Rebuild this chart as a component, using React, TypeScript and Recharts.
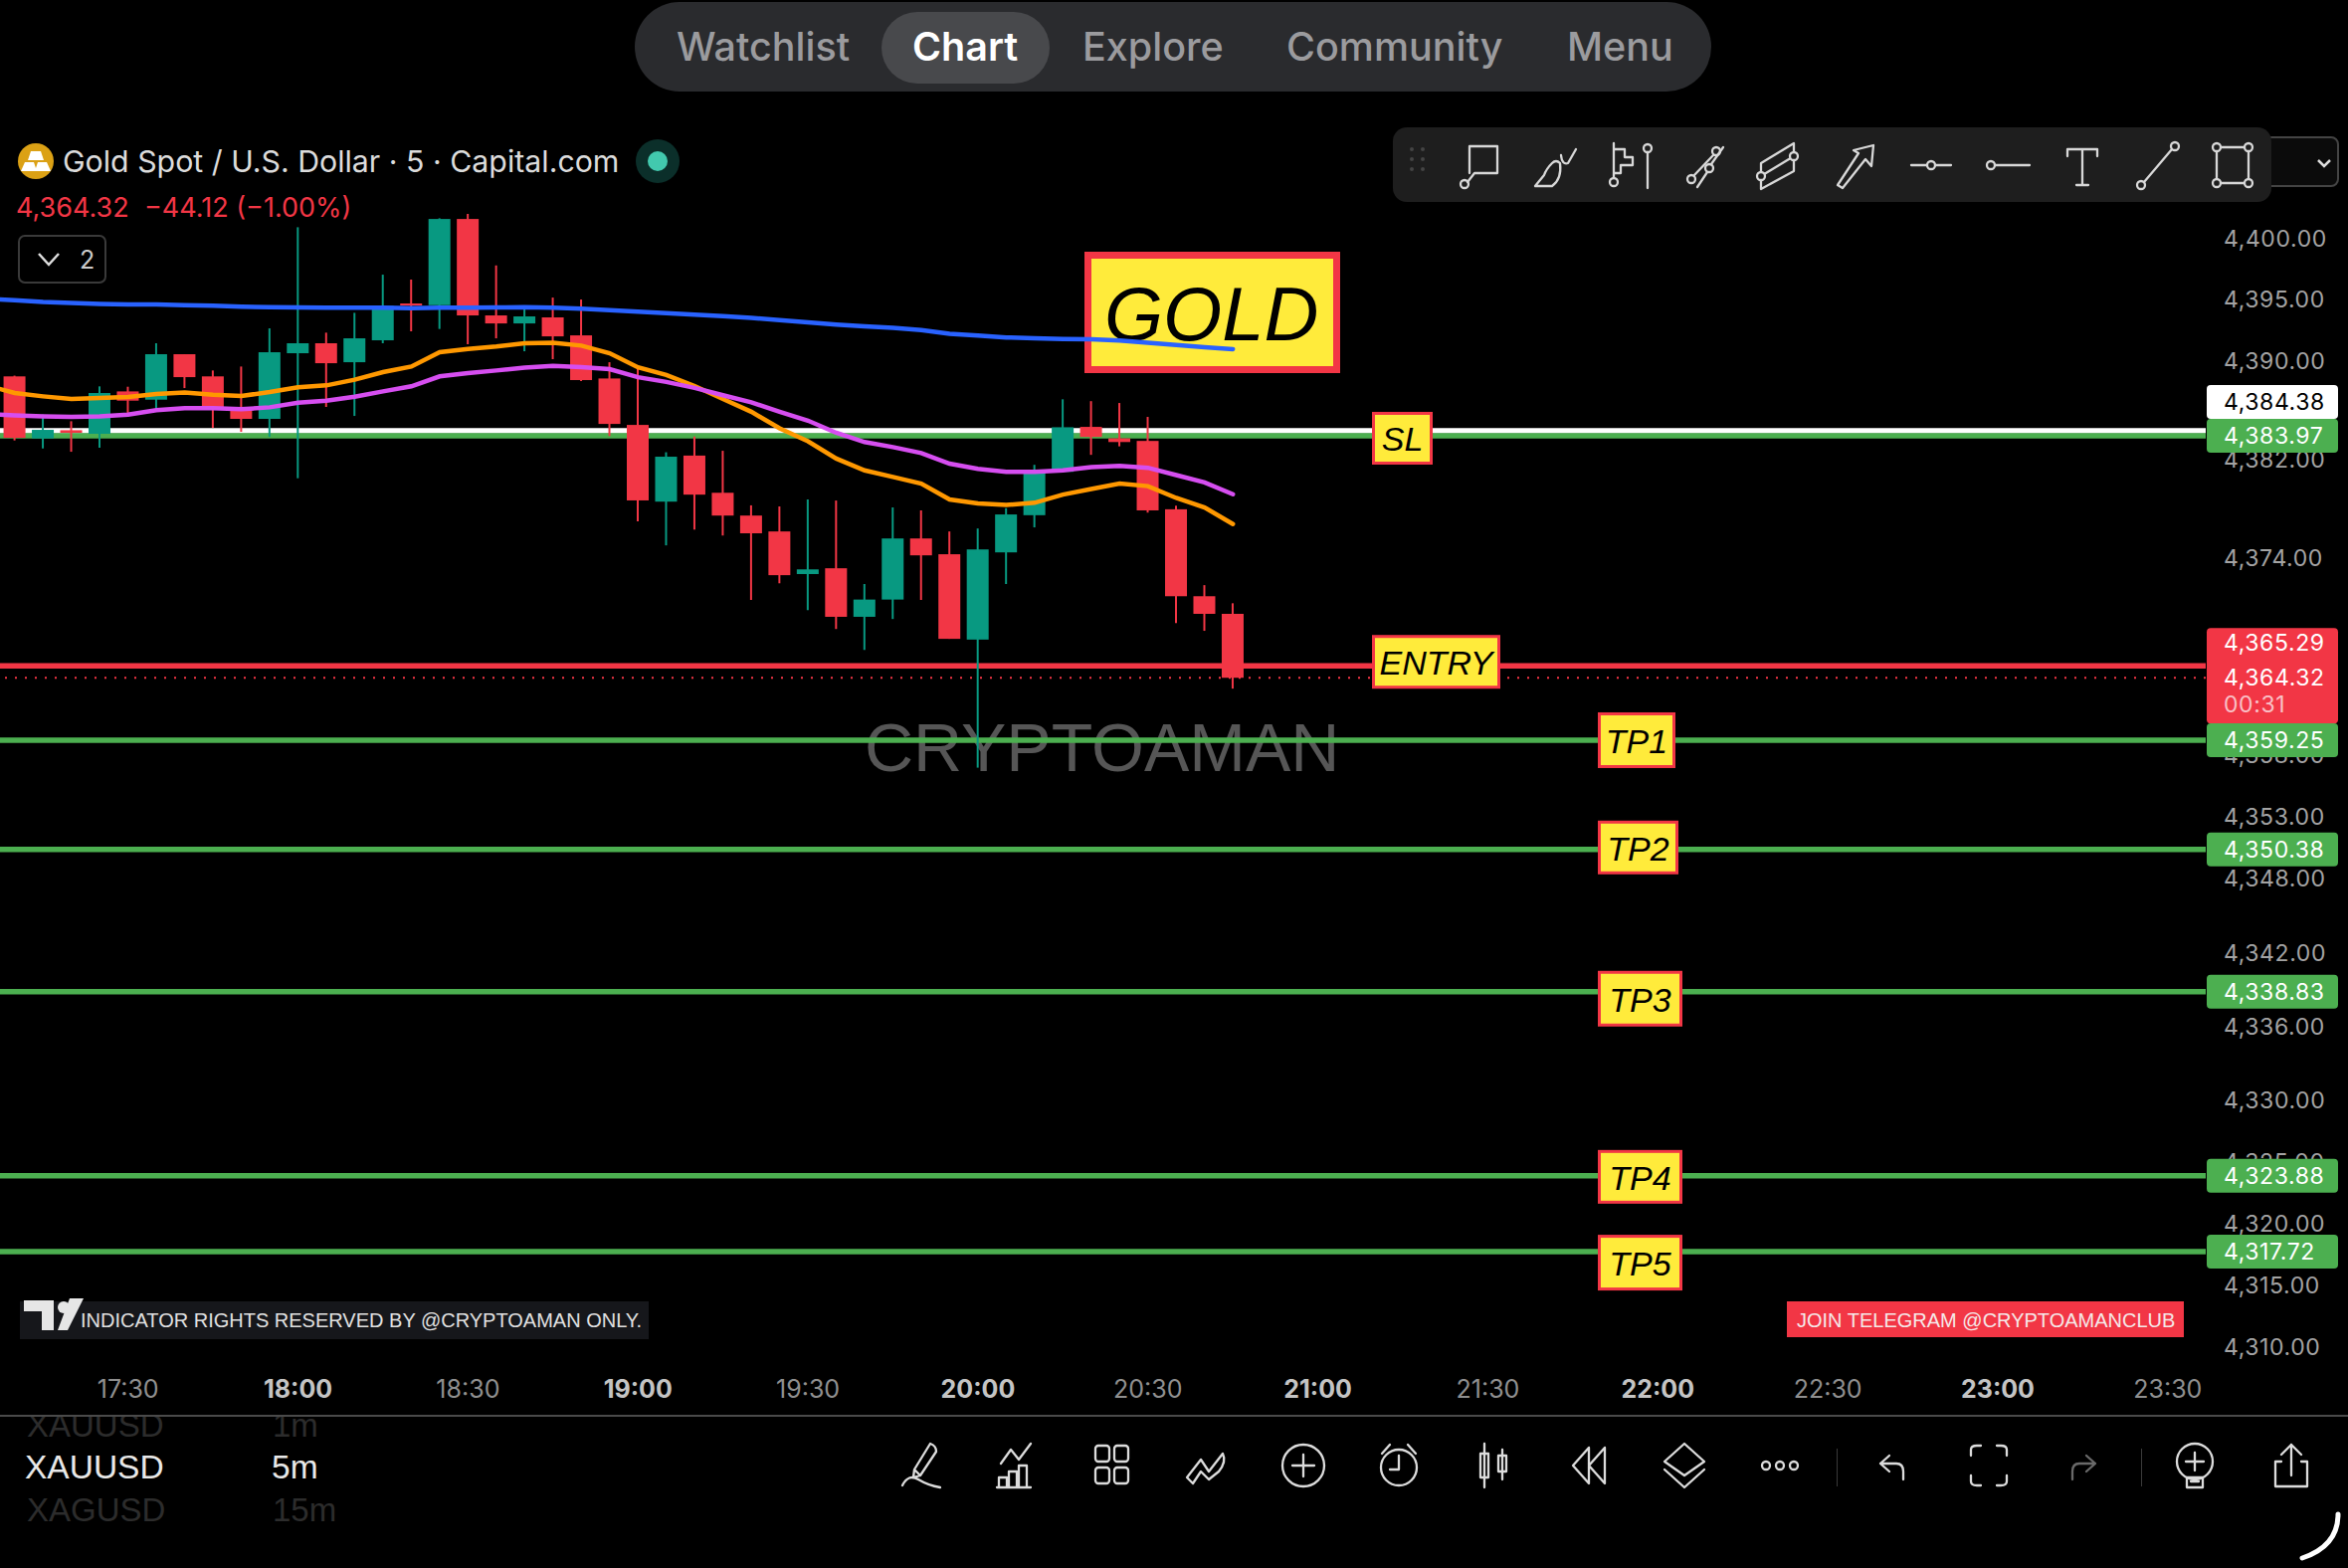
import { Bar, ComposedChart, Line, ReferenceLine, XAxis, YAxis } from 'recharts';

const UP = '#089981';
const DOWN = '#f23645';
const LEVEL_GREEN = '#4caf50';
const AXIS_FONT = 'Inter, sans-serif';

// 5m bars, as minutes of the day. First row only carries the averages (bar is off screen)
const minutes = [1025, 1030, 1035, 1040, 1045, 1050, 1055, 1060, 1065, 1070, 1075, 1080, 1085, 1090, 1095, 1100, 1105, 1110, 1115, 1120, 1125, 1130, 1135, 1140, 1145, 1150, 1155, 1160, 1165, 1170, 1175, 1180, 1185, 1190, 1195, 1200, 1205, 1210, 1215, 1220, 1225, 1230, 1235, 1240, 1245];
const opens = [null, 4388.79, 4383.75, 4384.42, 4384.13, 4387.57, 4386.9, 4390.59, 4388.79, 4386.28, 4385.34, 4390.67, 4391.48, 4389.94, 4391.72, 4394.71, 4394.57, 4401.57, 4393.74, 4393.09, 4393.58, 4392.12, 4388.62, 4384.85, 4378.62, 4382.36, 4379.34, 4377.49, 4376.2, 4372.74, 4373.21, 4369.27, 4370.67, 4375.63, 4374.35, 4367.42, 4374.5, 4377.52, 4381.04, 4384.69, 4383.76, 4383.55, 4378.0, 4370.94, 4369.51];
const highs = [null, 4388.85, 4385.69, 4385.15, 4387.98, 4387.95, 4391.48, 4390.59, 4389.27, 4389.59, 4392.69, 4400.9, 4392.34, 4393.95, 4397.05, 4396.65, 4401.63, 4401.98, 4397.8, 4394.44, 4395.19, 4395.03, 4389.94, 4389.46, 4382.63, 4383.91, 4382.75, 4378.32, 4378.23, 4378.8, 4378.71, 4371.93, 4378.15, 4377.91, 4376.2, 4376.44, 4378.09, 4381.61, 4386.93, 4386.78, 4386.63, 4385.5, 4378.29, 4371.84, 4370.37];
const lows = [null, 4383.59, 4382.94, 4382.67, 4383.0, 4385.55, 4385.96, 4387.84, 4384.61, 4384.29, 4383.88, 4380.52, 4386.31, 4385.58, 4391.48, 4392.45, 4392.64, 4391.4, 4391.88, 4390.83, 4390.19, 4388.41, 4383.94, 4377.02, 4375.07, 4376.35, 4375.87, 4370.64, 4371.99, 4369.81, 4368.28, 4366.58, 4369.09, 4370.64, 4367.48, 4357.02, 4371.93, 4376.53, 4381.04, 4382.42, 4383.11, 4377.73, 4368.76, 4368.13, 4363.44];
const closes = [null, 4383.8, 4384.45, 4384.21, 4387.44, 4386.82, 4390.59, 4388.73, 4386.17, 4385.34, 4390.75, 4391.48, 4389.86, 4391.88, 4394.52, 4394.57, 4401.57, 4393.74, 4393.09, 4393.66, 4392.04, 4388.49, 4384.93, 4378.72, 4382.27, 4379.19, 4377.49, 4376.05, 4372.65, 4373.12, 4369.27, 4370.67, 4375.63, 4374.26, 4367.48, 4374.74, 4377.58, 4381.13, 4384.66, 4383.88, 4383.46, 4377.91, 4370.94, 4369.51, 4364.32];
const emaOrange = [4388.06, 4387.44, 4387.17, 4386.95, 4387.03, 4387.12, 4387.36, 4387.49, 4387.3, 4387.2, 4387.52, 4387.9, 4388.06, 4388.52, 4389.14, 4389.59, 4390.75, 4391.02, 4391.21, 4391.48, 4391.53, 4391.29, 4390.67, 4389.53, 4388.9, 4388.01, 4386.96, 4385.92, 4384.57, 4383.52, 4382.12, 4381.16, 4380.63, 4380.09, 4378.8, 4378.47, 4378.35, 4378.53, 4379.19, 4379.64, 4380.09, 4379.88, 4378.92, 4378.15, 4376.8];
const emaPurple = [4385.72, 4385.63, 4385.55, 4385.5, 4385.55, 4385.69, 4386.04, 4386.2, 4386.2, 4386.12, 4386.28, 4386.66, 4386.82, 4387.14, 4387.57, 4387.98, 4388.79, 4389.05, 4389.27, 4389.51, 4389.65, 4389.54, 4389.38, 4388.72, 4388.34, 4387.86, 4387.26, 4386.69, 4385.92, 4385.2, 4384.21, 4383.46, 4383.05, 4382.57, 4381.7, 4381.28, 4381.04, 4381.04, 4381.16, 4381.43, 4381.52, 4381.37, 4380.78, 4380.18, 4379.22];
const emaBlue = [4395.09, 4394.98, 4394.84, 4394.76, 4394.68, 4394.63, 4394.63, 4394.57, 4394.52, 4394.44, 4394.41, 4394.39, 4394.36, 4394.36, 4394.36, 4394.33, 4394.36, 4394.36, 4394.39, 4394.41, 4394.36, 4394.28, 4394.17, 4394.04, 4393.93, 4393.81, 4393.69, 4393.54, 4393.36, 4393.18, 4393.0, 4392.85, 4392.73, 4392.55, 4392.25, 4392.1, 4391.95, 4391.89, 4391.83, 4391.8, 4391.71, 4391.53, 4391.33, 4391.15, 4391.0];

const priceTicks = [4400, 4395, 4390, 4382, 4374, 4358, 4353, 4348, 4342, 4336, 4330, 4325, 4320, 4315, 4310];
const timeTicks = [1050, 1080, 1110, 1140, 1170, 1200, 1230, 1260, 1290, 1320, 1350, 1380, 1410];

const rows = minutes.map((t, i) => ({
  t,
  open: opens[i],
  high: highs[i],
  low: lows[i],
  close: closes[i],
  orange: emaOrange[i],
  purple: emaPurple[i],
  blue: emaBlue[i],
}));

const levelPrices = [4384.38, 4383.97, 4365.29, 4359.25, 4350.38, 4338.83, 4323.88, 4317.72];
const levelColors = ['#ffffff', LEVEL_GREEN, DOWN, LEVEL_GREEN, LEVEL_GREEN, LEVEL_GREEN, LEVEL_GREEN, LEVEL_GREEN];
const levelText = ['#000000', '#ffffff', '#ffffff', '#ffffff', '#ffffff', '#ffffff', '#ffffff', '#ffffff'];
const lastPrice = closes[closes.length - 1] as number;
// nudges so the price badges don't collide, and the yellow tags on the lines: [x, top offset from line, w, h]
const badgeShift = [-29, 0, -23, 0, 0, 0, 0, 0];
const tagNames = ['', 'SL', 'ENTRY', 'TP1', 'TP2', 'TP3', 'TP4', 'TP5'];
const tagBoxes = [null, [1379, -24, 61, 53], [1379, -31, 129, 54], [1606, -28, 78, 56], [1606, -29, 81, 54], [1606, -21, 85, 56], [1606, -26, 85, 54], [1606, -17, 85, 56]];

const fmtPrice = (v: number) => v.toLocaleString('en-US', { minimumFractionDigits: 2, maximumFractionDigits: 2 });
const fmtTime = (m: number) => `${Math.floor(m / 60)}:${String(m % 60).padStart(2, '0')}`;

function Candle(props: any) {
  const { x, y, width, height, payload } = props;
  if (payload.open == null) return null;
  const perUnit = height / (payload.high - payload.low);
  const color = payload.close >= payload.open ? UP : DOWN;
  const top = y + (payload.high - Math.max(payload.open, payload.close)) * perUnit;
  const bodyH = Math.abs(payload.open - payload.close) * perUnit;
  const cx = x + width / 2;
  return (
    <g>
      <line x1={cx} x2={cx} y1={y} y2={y + height} stroke={color} strokeWidth={2} />
      <rect x={x} y={top} width={width} height={Math.max(bodyH, 2)} fill={color} />
    </g>
  );
}

function TimeTick({ x, y, payload }: any) {
  const hour = payload.value % 60 === 0;
  return (
    <text x={x} y={y + 27} textAnchor="middle" fontFamily={AXIS_FONT} fontSize={25} fontWeight={hour ? 700 : 400} fill={hour ? '#c4c4c4' : '#8f8f8f'}>
      {fmtTime(payload.value)}
    </text>
  );
}

function PriceTick({ y, payload }: any) {
  return (
    <text x={2235} y={y + 8} fontFamily={AXIS_FONT} fontSize={23} letterSpacing={0.6} fill="#a3a3a3">
      {fmtPrice(payload.value)}
    </text>
  );
}

// price badge on the axis plus the yellow tag on the line, both follow the level's y
const levelLabel = (i: number) => (props: any) => {
  const y = props.viewBox.y;
  const by = y + badgeShift[i];
  const isLive = i === 2;
  const box = tagBoxes[i];
  return (
    <g>
      {isLive && <rect x={2218} y={y - 38} width={132} height={96} rx={4} fill={DOWN} />}
      {!isLive && <rect x={2218} y={by - 17} width={132} height={34} rx={4} fill={levelColors[i]} />}
      <text x={2235} y={by + 8} fontFamily={AXIS_FONT} fontSize={23} letterSpacing={0.6} fill={levelText[i]}>
        {fmtPrice(levelPrices[i])}
      </text>
      {isLive && (
        <>
          <text x={2235} y={y + 20} fontFamily={AXIS_FONT} fontSize={23} letterSpacing={0.6} fill="#fff">
            {fmtPrice(lastPrice)}
          </text>
          <text x={2235} y={y + 47} fontFamily={AXIS_FONT} fontSize={23} letterSpacing={0.6} fill="#f9c0c6">00:31</text>
        </>
      )}
      {box && (
        <>
          <rect x={box[0] + 1.5} y={y + box[1] + 1.5} width={box[2] - 3} height={box[3] - 3} fill="#ffeb3b" stroke={DOWN} strokeWidth={3} />
          <text x={box[0] + box[2] / 2} y={y + box[1] + box[3] / 2 + 13} textAnchor="middle" fontFamily="'Liberation Sans', sans-serif" fontStyle="italic" fontSize={34} fill="#000">
            {tagNames[i]}
          </text>
        </>
      )}
    </g>
  );
};

function Txt({ x, y, size, color, weight, font, children, spacing }: any) {
  return (
    <div style={{ position: 'absolute', left: x, top: y, transform: 'translateY(-50%)', fontSize: size, color, fontWeight: weight ?? 400, fontFamily: font ?? 'Inter, sans-serif', letterSpacing: spacing ?? 0, whiteSpace: 'nowrap', lineHeight: 1 }}>
      {children}
    </div>
  );
}

function Box({ x, y, w, h, style }: any) {
  return <div style={{ position: 'absolute', left: x, top: y, width: w, height: h, boxSizing: 'border-box', ...style }} />;
}

// toolbar glyphs, drawn in a 44 box
function Glyph({ cx, cy, color = '#d8d8d8', w = 2.3, children }: any) {
  return (
    <svg width={44} height={48} viewBox="0 0 44 48" style={{ position: 'absolute', left: cx - 22, top: cy - 24, overflow: 'visible' }} fill="none" stroke={color} strokeWidth={w} strokeLinecap="round" strokeLinejoin="round">
      {children}
    </svg>
  );
}

const topIcons = [
  [1487, <><path d="M12 5H40V32H17L10 41M12 5V32" /><circle cx={7} cy={43} r={4} /></>],
  [1562, <><path d="M3 45H20Q30 38 28 22Q24 18 20 22Q14 28 12 34L3 45Z" /><path d="M29 14Q30 24 36 22L44 8" /></>],
  [1637, <><path d="M7 2V36M7 8H18V16H26V24H14V32H7" /><circle cx={7} cy={41} r={4} /><circle cx={41} cy={7} r={4} /><path d="M41 11V47" /></>],
  [1714, <><circle cx={8} cy={38} r={4} /><circle cx={33} cy={10} r={4} /><path d="M11 34L30 14M14 46L24 31" /><circle cx={26} cy={27} r={4} /><path d="M28 23L40 6" /></>],
  [1789, <><path d="M3 22L36 2V30L3 48ZM3 35L36 15" /><circle cx={3} cy={35} r={4} fill="#1e1e1e" /><circle cx={36} cy={15} r={4} fill="#1e1e1e" /></>],
  [1866, <path d="M3 44L24 12L19 9L39 4L37 25L31 18L8 47Z" />],
  [1941, <><path d="M2 24H18M26 24H42" /><circle cx={22} cy={24} r={4} /></>],
  [2018, <><circle cx={5} cy={24} r={4} /><path d="M9 24H44" /></>],
  [2093, <path d="M7 15V8H37V15M22 8V44M16 44H28" />],
  [2169, <><circle cx={5} cy={44} r={4} /><circle cx={39} cy={5} r={4} /><path d="M8 41L36 8" /></>],
  [2244, <><rect x={6} y={6} width={32} height={36} /><circle cx={6} cy={6} r={4} fill="#1e1e1e" /><circle cx={38} cy={6} r={4} fill="#1e1e1e" /><circle cx={6} cy={42} r={4} fill="#1e1e1e" /><circle cx={38} cy={42} r={4} fill="#1e1e1e" /></>],
] as const;

const bottomIcons = [
  [927, <><path d="M14 28L30 2Q36 4 36 10L20 34L13 36ZM14 28L20 34" /><path d="M2 44Q8 32 18 38T40 46" /></>],
  [1022, <><path d="M6 22L16 8L24 18L36 2" /><path d="M4 46V36H12V46M14 46V30H22V46M24 46V24H32V46M2 46H36" /></>],
  [1117, <><rect x={6} y={4} width={14} height={16} rx={3} /><rect x={25} y={4} width={14} height={16} rx={3} /><rect x={6} y={26} width={14} height={16} rx={3} /><rect x={25} y={26} width={14} height={16} rx={3} /></>],
  [1213, <><path d="M2 36L16 18L24 30L38 12Q42 20 34 30L24 38L16 30L8 42Z" /></>],
  [1310, <><circle cx={22} cy={24} r={21} /><path d="M22 13V35M11 24H33" /></>],
  [1406, <><circle cx={22} cy={26} r={18} /><path d="M22 14V28H13M5 12L13 3M39 12L31 3" /></>],
  [1502, <><path d="M12 2V46M30 8V38" /><rect x={8} y={12} width={8} height={24} /><rect x={26} y={14} width={8} height={16} /></>],
  [1597, <><path d="M22 6L6 24L22 42ZM38 6L22 24L38 42Z" /></>],
  [1693, <><path d="M22 2L42 20L22 34L2 20ZM2 28L22 46L42 28" /></>],
  [1789, <><circle cx={8} cy={24} r={4} /><circle cx={22} cy={24} r={4} /><circle cx={36} cy={24} r={4} /></>],
  [1902, <path d="M19 14L10 22L19 30M10 22H26Q33 22 33 30V38" />],
  [1999, <path d="M4 14V8Q4 4 10 4H14M30 4H34Q40 4 40 8V14M4 34V40Q4 44 10 44H14M30 44H34Q40 44 40 40V34" />],
  [2094, <path d="M25 14L34 22L25 30M34 22H18Q11 22 11 30V38" />],
  [2206, <><circle cx={22} cy={20} r={18} /><path d="M22 11V29M13 20H31M14 36H30V46H14ZM18 40H26" /></>],
  [2303, <><path d="M22 34V3M12 13L22 3L32 13M12 20H6V45H38V20H32" /></>],
] as const;

const navItems = [['Watchlist', 680, false], ['Chart', 917, true], ['Explore', 1088, false], ['Community', 1293, false], ['Menu', 1575, false]] as const;

const xDomain = [1027.4, 1416.7];
const yDomain = [4308.68, 4419.35];
const chartProps = { width: 2360, height: 1576, data: rows };

export default function App() {
  return (
    <div style={{ position: 'absolute', left: 0, top: 0, width: 2360, height: 1576, background: '#000', overflow: 'hidden' }}>
      <Box x={1090} y={253} w={257} h={122} style={{ background: '#ffeb3b', border: `7px solid ${DOWN}` }} />
      <Txt x={1110} y={316} size={76} color="#000" font="'Liberation Sans', sans-serif"><i>GOLD</i></Txt>
      <Txt x={869} y={751} size={68} color="#565656" font="'Liberation Sans', sans-serif">CRYPTOAMAN</Txt>

      <Box x={20} y={1308} w={632} h={38} style={{ background: '#16171b' }} />
      <Txt x={81} y={1327} size={20} color="#e0e0e0" font="'Liberation Sans', sans-serif">INDICATOR RIGHTS RESERVED BY @CRYPTOAMAN ONLY.</Txt>
      <Box x={1796} y={1308} w={399} h={36} style={{ background: DOWN }} />
      <Txt x={1806} y={1327} size={20} color="#f5e8e8" font="'Liberation Sans', sans-serif">JOIN TELEGRAM @CRYPTOAMANCLUB</Txt>

      {/* back chart: axes and level lines, so candles and badges sit on top of them */}
      <div style={{ position: 'absolute', left: 0, top: 0 }}>
        <ComposedChart {...chartProps} margin={{ top: 0, right: 0, bottom: 0, left: 0 }}>
          <XAxis dataKey="t" type="number" domain={xDomain} allowDataOverflow ticks={timeTicks} height={206} axisLine={false} tickLine={false} tick={<TimeTick />} interval={0} />
          <YAxis orientation="right" type="number" domain={yDomain} allowDataOverflow ticks={priceTicks} width={143} axisLine={false} tickLine={false} tick={<PriceTick />} interval={0} />
          {levelPrices.map((p, i) => (
            <ReferenceLine key={p} y={p} stroke={levelColors[i]} strokeWidth={5.5} />
          ))}
          <ReferenceLine y={lastPrice} stroke={DOWN} strokeWidth={2} strokeDasharray="2 8" />
        </ComposedChart>
      </div>

      <div style={{ position: 'absolute', left: 0, top: 0 }}>
        <ComposedChart {...chartProps} margin={{ top: 0, right: 143, bottom: 206, left: 0 }}>
          <XAxis hide dataKey="t" type="number" domain={xDomain} allowDataOverflow />
          <YAxis hide type="number" domain={yDomain} allowDataOverflow />
          <Bar dataKey={(d: any) => (d.low == null ? null : [d.low, d.high])} barSize={22} shape={<Candle />} isAnimationActive={false} />
          <Line dataKey="orange" stroke="#ff9800" strokeWidth={4.5} strokeLinecap="round" dot={false} type="linear" isAnimationActive={false} />
          <Line dataKey="purple" stroke="#d64ef0" strokeWidth={4.5} strokeLinecap="round" dot={false} type="linear" isAnimationActive={false} />
          <Line dataKey="blue" stroke="#2962ff" strokeWidth={4.5} strokeLinecap="round" dot={false} type="linear" isAnimationActive={false} />
          {levelPrices.map((p, i) => (
            <ReferenceLine key={p} y={p} stroke="none" label={levelLabel(i)} />
          ))}
        </ComposedChart>
      </div>

      {/* top nav pill */}
      <Box x={638} y={2} w={1082} h={90} style={{ background: '#2a2b2e', borderRadius: 45 }} />
      <Box x={886} y={12} w={169} h={72} style={{ background: '#48494c', borderRadius: 36 }} />
      {navItems.map(([label, x, active]) => (
        <Txt key={label as string} x={x} y={48} size={39.5} weight={active ? 600 : 500} color={active ? '#ffffff' : '#9b9b9e'}>{label}</Txt>
      ))}

      {/* symbol header */}
      <svg width={40} height={40} style={{ position: 'absolute', left: 16, top: 142 }}>
        <circle cx={20} cy={20} r={18} fill="#dba115" />
        <path d="M15 10H25L28 19H12ZM5 30L9 21H18L21 30ZM19 30L22 21H31L35 30Z" fill="#fff" />
      </svg>
      <Txt x={63} y={162} size={30.3} color="#dcdcdc">Gold Spot / U.S. Dollar · 5 · Capital.com</Txt>
      <svg width={50} height={50} style={{ position: 'absolute', left: 636, top: 137 }}>
        <circle cx={25} cy={25} r={22} fill="#0b2f2a" />
        <circle cx={25} cy={25} r={10} fill="#42c9ae" />
      </svg>
      <Txt x={16} y={208} size={27} color={DOWN}>4,364.32&nbsp; −44.12 (−1.00%)</Txt>
      <Box x={18} y={236} w={89} h={49} style={{ border: '2px solid #3a3a3a', borderRadius: 7, background: '#000' }} />
      <svg width={30} height={20} style={{ position: 'absolute', left: 36, top: 251 }}><path d="M3 4L13 15L23 4" fill="none" stroke="#ddd" strokeWidth={2.5} /></svg>
      <Txt x={80} y={261} size={25} color="#ccc">2</Txt>

      {/* drawing toolbar */}
      <Box x={2270} y={137} w={81} h={51} style={{ background: '#0b0b0b', border: '2px solid #444', borderRadius: 8 }} />
      <Box x={1400} y={128} w={883} h={75} style={{ background: '#1e1e1e', borderRadius: 14 }} />
      <svg width={16} height={10} style={{ position: 'absolute', left: 2328, top: 159 }}><path d="M2 2L8 8L14 2" fill="none" stroke="#ddd" strokeWidth={2.5} /></svg>
      <svg width={20} height={40} style={{ position: 'absolute', left: 1415, top: 146 }} fill="#444">
        {[4, 14, 24].map((cy) => <g key={cy}><circle cx={4} cy={cy} r={2} /><circle cx={15} cy={cy} r={2} /></g>)}
      </svg>
      {topIcons.map(([cx, icon], i) => <Glyph key={i} cx={cx} cy={166}>{icon}</Glyph>)}

      {/* bottom bar */}
      <Box x={0} y={1422} w={2360} h={154} style={{ background: '#000', borderTop: '2px solid #4a4a4a' }} />
      <div style={{ position: 'absolute', left: 0, top: 1424, width: 500, height: 120, overflow: 'hidden' }}>
        <Txt x={27} y={8} size={33} color="#2c2c2c" font="'Liberation Sans', sans-serif">XAUUSD</Txt>
        <Txt x={274} y={8} size={33} color="#2c2c2c" font="'Liberation Sans', sans-serif">1m</Txt>
      </div>
      <Txt x={25} y={1475} size={33.5} color="#e8e8e8" font="'Liberation Sans', sans-serif">XAUUSD</Txt>
      <Txt x={273} y={1475} size={33.5} color="#e8e8e8" font="'Liberation Sans', sans-serif">5m</Txt>
      <Txt x={27} y={1517} size={33} color="#2c2c2c" font="'Liberation Sans', sans-serif">XAGUSD</Txt>
      <Txt x={274} y={1517} size={33} color="#2c2c2c" font="'Liberation Sans', sans-serif">15m</Txt>
      {bottomIcons.map(([cx, icon], i) => (
        <Glyph key={i} cx={cx} cy={1473} color={i === 12 ? '#6a6a6a' : '#dcdcdc'}>{icon}</Glyph>
      ))}
      <Box x={1846} y={1456} w={1} h={38} style={{ background: '#3a3a3a' }} />
      <Box x={2152} y={1456} w={1} h={38} style={{ background: '#3a3a3a' }} />
      <svg width={60} height={60} style={{ position: 'absolute', left: 2304, top: 1516 }}>
        <path d="M46 6Q46 38 10 50" fill="none" stroke="#fff" strokeWidth={5} strokeLinecap="round" />
      </svg>

      {/* TV logo over the watermark bar */}
      <svg width={64} height={36} style={{ position: 'absolute', left: 22, top: 1303 }} fill="#e6e6e6">
        <path d="M2 4H32V34H20V15H2Z" />
        <circle cx={42} cy={11} r={6} />
        <path d="M48 2H62L46 34H36Z" />
      </svg>
    </div>
  );
}
